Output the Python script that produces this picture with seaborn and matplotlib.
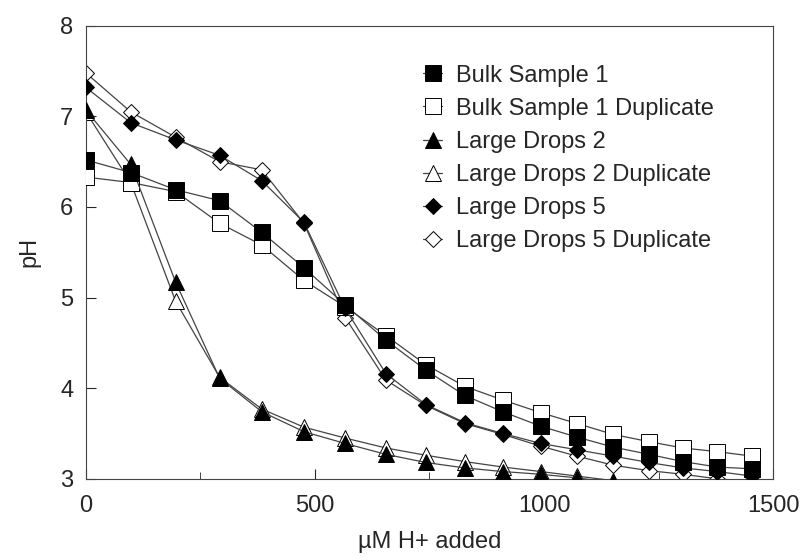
import numpy as np
import pandas as pd
import matplotlib
matplotlib.use("Agg")
import matplotlib.pyplot as plt
import seaborn as sns
from matplotlib.ticker import MultipleLocator

# Données
acide_ajoute = [0, 98, 196, 292, 384, 476, 566, 655, 742, 827, 910, 993,
                1072, 1151, 1229, 1303, 1378, 1454]

ph_bulk_1 = [6.52, 6.38, 6.19, 6.07, 5.72, 5.33, 4.92, 4.53, 4.20, 3.92, 3.74,
             3.58, 3.46, 3.35, 3.27, 3.19, 3.13, 3.11]
ph_bulk_1_dup = [6.33, 6.27, 6.17, 5.82, 5.58, 5.19, 4.90, 4.58, 4.26, 4.02, 3.87,
                 3.73, 3.61, 3.49, 3.41, 3.34, 3.30, 3.25]
ph_drops_2 = [7.07, 6.47, 5.17, 4.11, 3.74, 3.52, 3.39, 3.27, 3.18, 3.12, 3.08,
              3.05, 3.01, 2.96]
ph_drops_2_dup = [7.05, 6.27, 4.96, 4.12, 3.77, 3.57, 3.45, 3.34, 3.26, 3.19, 3.13,
                  3.08, 3.03, 2.98]
ph_drops_5 = [7.32, 6.93, 6.74, 6.57, 6.29, 5.83, 4.88, 4.16, 3.82, 3.62, 3.50,
              3.39, 3.32, 3.25, 3.18, 3.12, 3.08, 3.03]
ph_drops_5_dup = [7.48, 7.05, 6.77, 6.50, 6.41, 5.82, 4.78, 4.09, 3.81, 3.61, 3.49,
                  3.36, 3.25, 3.15, 3.09, 3.05, 3.00, 2.97]

# (nom, valeurs, marqueur, remplissage, taille, ordre de dessin)
series = [
    ("Bulk Sample 1", ph_bulk_1, "s", "black", 11, 6),
    ("Bulk Sample 1 Duplicate", ph_bulk_1_dup, "s", "white", 11, 3),
    ("Large Drops 2", ph_drops_2, "^", "black", 12, 5),
    ("Large Drops 2 Duplicate", ph_drops_2_dup, "^", "white", 12, 2),
    ("Large Drops 5", ph_drops_5, "D", "black", 8.5, 4),
    ("Large Drops 5 Duplicate", ph_drops_5_dup, "D", "white", 8.5, 1),
]

# Style
sns.set_style("ticks")
plt.rcParams['font.family'] = ['Liberation Sans', 'DejaVu Sans']
plt.rcParams['figure.dpi'] = 100

rows = []
for nom, valeurs, *_ in series:
    for x, y in zip(acide_ajoute, valeurs):
        rows.append({"serie": nom, "uM": x, "pH": y})
df = pd.DataFrame(rows)

fig = plt.figure(figsize=(8.02, 5.6), dpi=100)
ax = fig.add_axes([0.107, 0.145, 0.857, 0.809])

for nom, _, marqueur, remplissage, taille, ordre in series:
    sub = df[df["serie"] == nom]
    sns.lineplot(data=sub, x="uM", y="pH", ax=ax, sort=False,
                 color="#444444", linewidth=0.9, zorder=ordre,
                 marker=marqueur, markersize=taille,
                 markerfacecolor=remplissage, markeredgecolor="black",
                 markeredgewidth=0.7, label=nom)

ax.set_xlim(0, 1500)
ax.set_ylim(3, 8)
ax.xaxis.set_major_locator(MultipleLocator(500))
ax.xaxis.set_minor_locator(MultipleLocator(250))
ax.yaxis.set_major_locator(MultipleLocator(1))
ax.tick_params(direction="in", which="both", labelsize=17)
ax.tick_params(axis="x", pad=12)
ax.tick_params(axis="y", pad=9)
ax.tick_params(which="major", length=7)
ax.tick_params(which="minor", length=5)
for s in ax.spines.values():
    s.set_linewidth(0.8)
    s.set_color("#444444")

ax.set_xlabel("µM H+ added", fontsize=17, labelpad=10)
ax.set_ylabel("pH", fontsize=17, labelpad=14)

ax.legend(loc="upper left", bbox_to_anchor=(0.477, 0.935), frameon=False,
          fontsize=17, handlelength=0.8, handletextpad=0.6, labelspacing=0.47,
          borderaxespad=0)

plt.savefig("out.png", dpi=100)
plt.close()
